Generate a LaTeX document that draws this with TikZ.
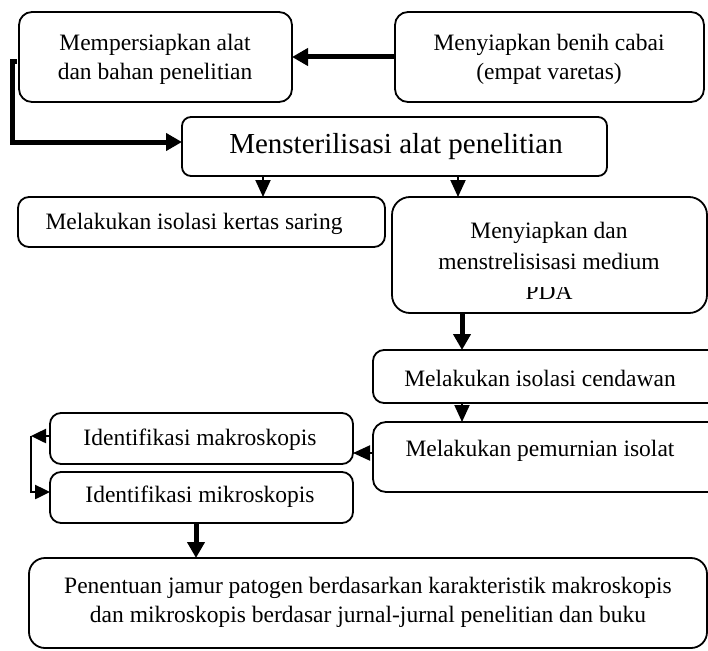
\documentclass[tikz,border=0pt]{standalone}
\usepackage{fontspec}
\setmainfont{Liberation Serif}
\usetikzlibrary{arrows.meta}
\begin{document}
\begin{tikzpicture}[x=1pt,y=-1pt,
  box/.style={draw, line width=1.8pt, rounded corners=13pt, anchor=north west, inner sep=0pt, outer sep=0pt},
  txt/.style={font=\fontsize{23.5}{29}\selectfont, align=center, inner sep=0pt},
  bigarrow/.style={line width=5pt, -{Triangle[length=16pt,width=17pt]}},
  bigline/.style={line width=5pt},
  smallarrow/.style={line width=2pt, -{Triangle[length=17pt,width=15pt]}},
  midarrow/.style={line width=2.5pt, -{Triangle[length=15pt,width=14pt]}}
]
\clip (0,0) rectangle (708,650);
\useasboundingbox (0,0) rectangle (708,650);

% boxes
\node[box, minimum width=273pt, minimum height=90pt] (b1) at (19,12) {};
\node[box, minimum width=309pt, minimum height=90pt] (b2) at (395,12) {};
\node[box, rounded corners=9pt, minimum width=425pt, minimum height=59pt] (b3) at (182,117) {};
\node[box, rounded corners=11pt, minimum width=367pt, minimum height=50pt] (b4) at (18,197) {};
\node[box, rounded corners=18pt, minimum width=315pt, minimum height=116pt] (b5) at (392,197) {};
\node[box, rounded corners=11pt, minimum width=357pt, minimum height=53pt] (b6) at (373,350) {};
\node[box, rounded corners=13pt, minimum width=357pt, minimum height=70pt] (b7) at (373,422) {};
\node[box, rounded corners=11pt, minimum width=303pt, minimum height=51pt] (b8) at (50,413) {};
\node[box, rounded corners=11pt, minimum width=303pt, minimum height=51pt] (b9) at (50,472) {};
\node[box, rounded corners=16pt, minimum width=678pt, minimum height=90pt] (b10) at (29,558) {};

% texts
\node[txt] (t1) at (155,59) {Mempersiapkan alat\\dan bahan penelitian};
\node[txt] (t2) at (549,59) {Menyiapkan benih cabai\\(empat varetas)};
\node[txt, font=\fontsize{29}{34}\selectfont] (t3) at (396,147) {Mensterilisasi alat penelitian};
\node[txt] (t4) at (194,224) {Melakukan isolasi kertas saring};
\node[txt, font=\fontsize{23.5}{31.5}\selectfont] (t5) at (549,246) {Menyiapkan dan\\menstrelisisasi medium};
\begin{scope}
\clip (392,287) rectangle (707,313);
\node[txt, anchor=base] (t5b) at (549,299) {PDA};
\end{scope}
\node[txt] (t6) at (540,378) {Melakukan isolasi cendawan};
\node[txt] (t7) at (540,451) {Melakukan pemurnian isolat};
\node[txt] (t8) at (200,440) {Identifikasi makroskopis};
\node[txt] (t9) at (200,497) {Identifikasi mikroskopis};
\node[txt] (t10) at (368,602) {Penentuan jamur patogen berdasarkan karakteristik makroskopis\\dan mikroskopis berdasar jurnal-jurnal penelitian dan buku};

% connectors
\draw[bigarrow] (b2.west) -- (b1.east);
\coordinate (e1) at (17,62);
\coordinate (e2) at (12,142);
\draw[bigarrow] (e1) -- (e1 -| e2) -- (e2) -- (e2 -| b3.west);
\draw[smallarrow] (b3.south -| 263,0) -- (b4.north -| 263,0);
\draw[smallarrow] (b3.south -| 458,0) -- (b5.north -| 458,0);
\draw[bigarrow] (b5.south -| 462,0) -- (b6.north -| 462,0);
\draw[smallarrow] (b6.south -| 462,0) -- (b7.north -| 462,0);
\draw[smallarrow] (b7.west |- 0,453) -- (b8.east |- 0,453);
\coordinate (k1) at (31,436);
\coordinate (k2) at (31,492);
\draw[midarrow] (b8.west |- k1) -- (k1);
\draw[midarrow] (k1) -- (k2) -- (k2 -| b9.west);
\draw[bigarrow] (b9.south -| 196,0) -- (b10.north -| 196,0);
\end{tikzpicture}
\end{document}
